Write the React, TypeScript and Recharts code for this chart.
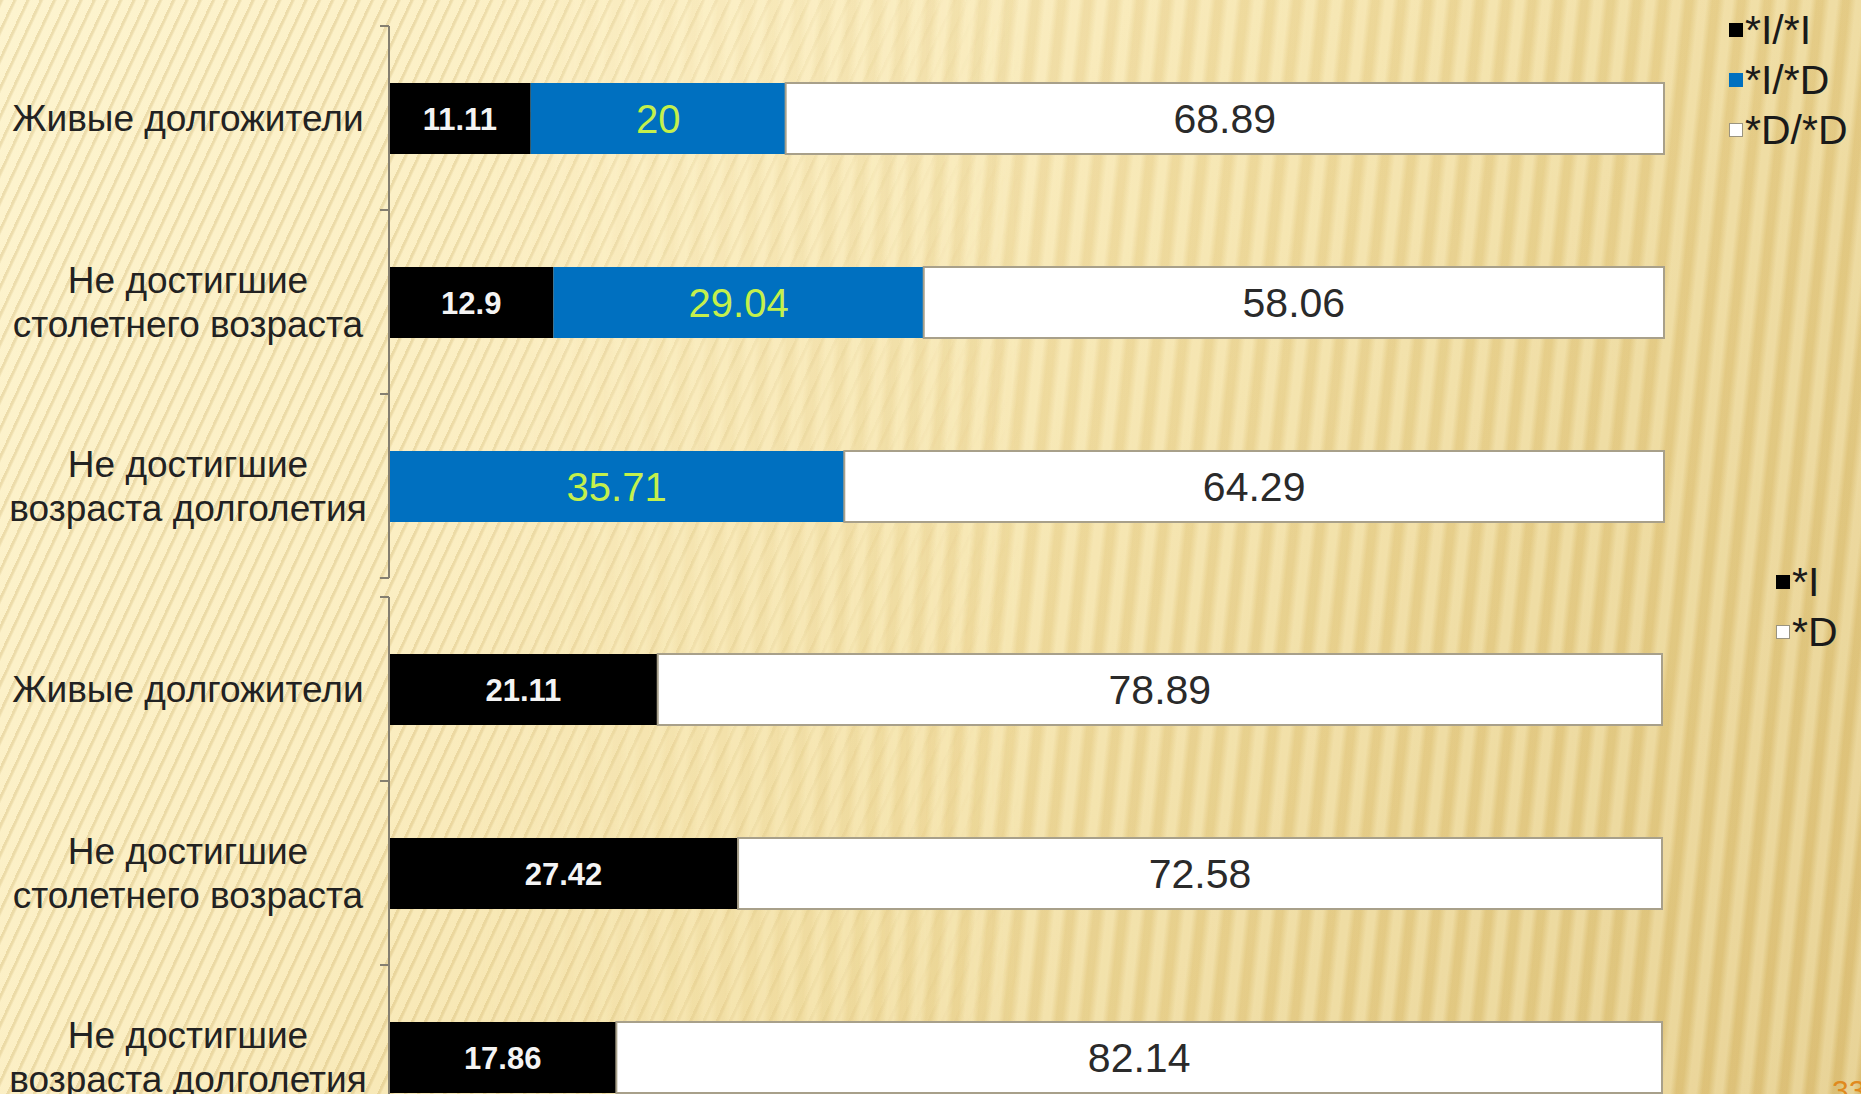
import React from 'react';
import { BarChart, Bar, XAxis, YAxis, LabelList, Legend } from 'recharts';

const categories = ['Живые долгожители', 'Не достигшие\nстолетнего возраста', 'Не достигшие\nвозраста долголетия'];

const topII = [11.11, 12.9, 0];
const topID = [20, 29.04, 35.71];
const topDD = [68.89, 58.06, 64.29];

const bottomI = [21.11, 27.42, 17.86];
const bottomD = [78.89, 72.58, 82.14];

const topLegend = [
  { label: '*I/*I', color: '#000000' },
  { label: '*I/*D', color: '#0070c0' },
  { label: '*D/*D', color: '#ffffff' },
];
const bottomLegend = [
  { label: '*I', color: '#000000' },
  { label: '*D', color: '#ffffff' },
];

const topData = categories.map((name, i) => ({ name, ii: topII[i], id: topID[i], dd: topDD[i] }));
const bottomData = categories.map((name, i) => ({ name, i: bottomI[i], d: bottomD[i] }));

const FONT = '"Liberation Sans", Arial, sans-serif';
const PLOT_H = 552;
const BAND = PLOT_H / categories.length;
const TICK_SIZE = 9;
const AXIS_COLOR = '#857f70';

const CatTick = (props: any) => {
  const { x, y, payload } = props;
  const axisX = x + TICK_SIZE;
  const lines = String(payload.value).split('\n');
  const lh = 44;
  const startY = y - ((lines.length - 1) * lh) / 2;
  const isLast = payload.value === categories[categories.length - 1];
  const cx = axisX - 201;
  return (
    <g>
      <line x1={axisX - TICK_SIZE} x2={axisX} y1={y - BAND / 2} y2={y - BAND / 2} stroke={AXIS_COLOR} strokeWidth={2} />
      {isLast && (
        <line x1={axisX - TICK_SIZE} x2={axisX} y1={y + BAND / 2} y2={y + BAND / 2} stroke={AXIS_COLOR} strokeWidth={2} />
      )}
      <text textAnchor="middle" fontSize={37} fill="#222222" fontFamily={FONT}>
        {lines.map((l, i) => (
          <tspan key={i} x={cx} y={startY + i * lh} dy="0.36em">
            {l}
          </tspan>
        ))}
      </text>
    </g>
  );
};

const LegendBox = ({ items }: { items: { label: string; color: string }[] }) => (
  <div style={{ fontFamily: FONT, fontSize: 41, color: '#1a1a1a', lineHeight: '50px' }}>
    {items.map((it) => (
      <div key={it.label} style={{ display: 'flex', alignItems: 'center', whiteSpace: 'nowrap' }}>
        <span
          style={{
            display: 'inline-block',
            width: 12,
            height: 12,
            background: it.color,
            border: it.color === '#ffffff' ? '1px solid #9a9480' : '1px solid ' + it.color,
            marginRight: 2,
          }}
        />
        {it.label}
      </div>
    ))}
  </div>
);

const fmt = (v: any) => (v ? String(v) : '');

const blackLabel = { fill: '#f4f4f4', fontSize: 31, fontWeight: 700, fontFamily: FONT };
const blueLabel = { fill: '#c4f04c', fontSize: 40, fontFamily: FONT };
const whiteLabel = { fill: '#2a2a2a', fontSize: 41, fontFamily: FONT };

const full: React.CSSProperties = { position: 'absolute', left: 0, top: 0, width: 1861, height: 1094 };

const baseBg: React.CSSProperties = {
  ...full,
  background: 'linear-gradient(118deg, #fdf4cf 0%, #fbeec2 30%, #f3e0a5 55%, #e9d28f 75%, #dfc47c 100%)',
};
const diagStripes: React.CSSProperties = {
  ...full,
  background:
    'repeating-linear-gradient(115deg, rgba(175,135,45,0.20) 0px, rgba(175,135,45,0.20) 2px, rgba(255,255,255,0) 4px, rgba(255,255,255,0) 12px)',
  WebkitMaskImage: 'linear-gradient(to right, black 0%, black 22%, transparent 55%)',
  maskImage: 'linear-gradient(to right, black 0%, black 22%, transparent 55%)',
};
const vertStripes: React.CSSProperties = {
  ...full,
  background:
    'repeating-linear-gradient(96deg, rgba(255,248,215,0.30) 0px, rgba(255,248,215,0.30) 7px, rgba(190,150,60,0.10) 13px, rgba(190,150,60,0.10) 19px, rgba(255,248,215,0.30) 26px)',
  WebkitMaskImage: 'linear-gradient(to right, transparent 25%, black 55%, black 100%)',
  maskImage: 'linear-gradient(to right, transparent 25%, black 55%, black 100%)',
};

export default function App() {
  return (
    <div style={{ ...full, overflow: 'hidden' }}>
      <div style={baseBg} />
      <div style={diagStripes} />
      <div style={vertStripes} />
      <div style={{ position: 'absolute', left: 0, top: 0 }}>
        <BarChart
          width={1861}
          height={600}
          data={topData}
          layout="vertical"
          margin={{ top: 26, right: 197, bottom: 22, left: 0 }}
        >
          <XAxis type="number" domain={[0, 100]} hide />
          <YAxis
            type="category"
            dataKey="name"
            width={389}
            axisLine={{ stroke: AXIS_COLOR, strokeWidth: 2 }}
            tickLine={false}
            tickSize={TICK_SIZE}
            tickMargin={0}
            tick={<CatTick />}
            interval={0}
          />
          <Legend
            layout="vertical"
            align="center"
            verticalAlign="middle"
            wrapperStyle={{ left: 1729, top: 5, width: 'auto' }}
            content={() => <LegendBox items={topLegend} />}
          />
          <Bar dataKey="ii" stackId="a" fill="#000000" barSize={71} isAnimationActive={false}>
            <LabelList dataKey="ii" position="center" formatter={fmt} style={blackLabel} />
          </Bar>
          <Bar dataKey="id" stackId="a" fill="#0070c0" barSize={71} isAnimationActive={false}>
            <LabelList dataKey="id" position="center" formatter={fmt} style={blueLabel} />
          </Bar>
          <Bar dataKey="dd" stackId="a" fill="#ffffff" stroke="#a8a08a" strokeWidth={2} barSize={71} isAnimationActive={false}>
            <LabelList dataKey="dd" position="center" formatter={fmt} style={whiteLabel} />
          </Bar>
        </BarChart>
      </div>
      <div style={{ position: 'absolute', left: 0, top: 555 }}>
        <BarChart
          width={1861}
          height={614}
          data={bottomData}
          layout="vertical"
          margin={{ top: 42, right: 199, bottom: 20, left: 0 }}
        >
          <XAxis type="number" domain={[0, 100]} hide />
          <YAxis
            type="category"
            dataKey="name"
            width={389}
            axisLine={{ stroke: AXIS_COLOR, strokeWidth: 2 }}
            tickLine={false}
            tickSize={TICK_SIZE}
            tickMargin={0}
            tick={<CatTick />}
            interval={0}
          />
          <Legend
            layout="vertical"
            align="center"
            verticalAlign="middle"
            wrapperStyle={{ left: 1776, top: 2, width: 'auto' }}
            content={() => <LegendBox items={bottomLegend} />}
          />
          <Bar dataKey="i" stackId="b" fill="#000000" barSize={71} isAnimationActive={false}>
            <LabelList dataKey="i" position="center" formatter={fmt} style={blackLabel} />
          </Bar>
          <Bar dataKey="d" stackId="b" fill="#ffffff" stroke="#a8a08a" strokeWidth={2} barSize={71} isAnimationActive={false}>
            <LabelList dataKey="d" position="center" formatter={fmt} style={whiteLabel} />
          </Bar>
        </BarChart>
      </div>
      <div
        style={{
          position: 'absolute',
          left: 1832,
          top: 1074,
          fontFamily: FONT,
          fontSize: 30,
          color: '#e08a1e',
        }}
      >
        33
      </div>
    </div>
  );
}
